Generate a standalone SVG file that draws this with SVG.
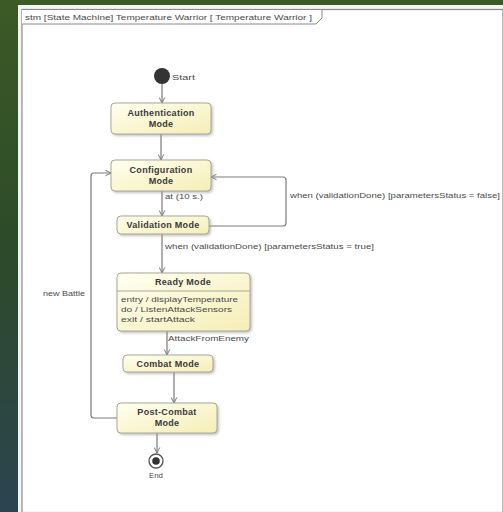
<svg xmlns="http://www.w3.org/2000/svg" width="503" height="512" viewBox="0 0 503 512">
  <defs>
    <linearGradient id="bg" x1="0" y1="0" x2="0" y2="1">
      <stop offset="0" stop-color="#3b5a25"/>
      <stop offset="0.5" stop-color="#2d4a2a"/>
      <stop offset="1" stop-color="#2c4450"/>
    </linearGradient>
    <linearGradient id="stateFill" x1="0" y1="0" x2="1" y2="1">
      <stop offset="0" stop-color="#fffff0"/>
      <stop offset="1" stop-color="#f5eeb6"/>
    </linearGradient>
    <marker id="arrow" viewBox="0 0 10 10" refX="9" refY="5" markerWidth="7" markerHeight="7" orient="auto-start-reverse" markerUnits="userSpaceOnUse">
      <path d="M1,1 L9,5 L1,9" fill="none" stroke="#777" stroke-width="1.4"/>
    </marker>
    <filter id="shadow" x="-10%" y="-10%" width="130%" height="140%">
      <feDropShadow dx="1.5" dy="1.5" stdDeviation="0.8" flood-color="#999" flood-opacity="0.6"/>
    </filter>
  </defs>
  <style>
    .state { fill: url(#stateFill); stroke: #aaa79a; stroke-width: 1; filter: url(#shadow); }
    .name { font-family: "Liberation Sans", Arial, sans-serif; font-size: 9px; font-weight: bold; fill: #3a3a3a; text-anchor: middle; letter-spacing: 0.3px; }
    .txt { font-family: "Liberation Sans", Arial, sans-serif; font-size: 7.8px; fill: #4a4a4a; }
    .edge { fill: none; stroke: #7a7a7a; stroke-width: 1.2; marker-end: url(#arrow); }
  </style>

  <!-- backdrop and diagram frame -->
  <rect x="0" y="0" width="503" height="512" fill="url(#bg)"/>
  <rect x="18" y="5" width="485" height="507" fill="#f4f4f4"/>
  <rect x="22" y="9.5" width="481" height="503" fill="#ffffff" stroke="#8a8a8a" stroke-width="1.2"/>
  <path d="M22,9.5 L322,9.5 L322,18 L316,24 L22,24" fill="#ffffff" stroke="#8a8a8a" stroke-width="1"/>
  <text class="txt" x="25" y="20" textLength="287" lengthAdjust="spacingAndGlyphs">stm [State Machine] Temperature Warrior [ Temperature Warrior ]</text>

  <!-- transitions -->
  <g id="connectors">
    <line class="edge" x1="162" y1="84" x2="162" y2="103"/>
    <line class="edge" x1="161" y1="134" x2="161" y2="160"/>
    <line class="edge" x1="162" y1="191" x2="162" y2="216"/>
    <line class="edge" x1="162" y1="234" x2="162" y2="273"/>
    <line class="edge" x1="167" y1="331" x2="167" y2="355"/>
    <line class="edge" x1="174" y1="372" x2="174" y2="403"/>
    <line class="edge" x1="157" y1="433" x2="157" y2="453"/>
    <path class="edge" d="M209,226 L283,226 Q286,226 286,223 L286,180 Q286,177 283,177 L211,177"/>
    <path class="edge" d="M117,418 L94,418 Q91,418 91,415 L91,176 Q91,173 94,173 L111,173"/>
    <text class="txt" x="165" y="199" textLength="38" lengthAdjust="spacingAndGlyphs">at (10 s.)</text>
    <text class="txt" x="290" y="198" textLength="210" lengthAdjust="spacingAndGlyphs">when (validationDone) [parametersStatus = false]</text>
    <text class="txt" x="165" y="249" textLength="209" lengthAdjust="spacingAndGlyphs">when (validationDone) [parametersStatus = true]</text>
    <text class="txt" x="168" y="341" textLength="81" lengthAdjust="spacingAndGlyphs">AttackFromEnemy</text>
    <text class="txt" x="43" y="296" textLength="42" lengthAdjust="spacingAndGlyphs">new Battle</text>
  </g>

  <g id="start">
    <circle cx="162" cy="76" r="8" fill="#333"/>
    <text class="txt" x="172" y="80" textLength="23" lengthAdjust="spacingAndGlyphs">Start</text>
  </g>

  <g id="authentication">
    <rect class="state" x="111" y="103" width="100" height="31" rx="4"/>
    <text class="name" x="161" y="116">Authentication</text>
    <text class="name" x="161" y="127">Mode</text>
  </g>

  <g id="configuration">
    <rect class="state" x="111" y="160" width="100" height="31" rx="4"/>
    <text class="name" x="161" y="173">Configuration</text>
    <text class="name" x="161" y="184">Mode</text>
  </g>

  <g id="validation">
    <rect class="state" x="117" y="216" width="92" height="18" rx="4"/>
    <text class="name" x="163" y="228">Validation Mode</text>
  </g>

  <g id="ready">
    <rect class="state" x="117" y="273" width="133" height="58" rx="4"/>
    <line x1="117" y1="291" x2="250" y2="291" stroke="#aaa79a" stroke-width="1"/>
    <text class="name" x="183" y="285">Ready Mode</text>
    <text class="txt" x="121" y="302" textLength="117" lengthAdjust="spacingAndGlyphs">entry / displayTemperature</text>
    <text class="txt" x="121" y="312" textLength="111" lengthAdjust="spacingAndGlyphs">do / ListenAttackSensors</text>
    <text class="txt" x="121" y="322" textLength="74" lengthAdjust="spacingAndGlyphs">exit / startAttack</text>
  </g>

  <g id="combat">
    <rect class="state" x="123" y="355" width="90" height="17" rx="4"/>
    <text class="name" x="168" y="367">Combat Mode</text>
  </g>

  <g id="postcombat">
    <rect class="state" x="117" y="403" width="100" height="30" rx="4"/>
    <text class="name" x="167" y="415">Post-Combat</text>
    <text class="name" x="167" y="426">Mode</text>
  </g>

  <g id="end">
    <circle cx="156" cy="461" r="7" fill="#ffffff" stroke="#555" stroke-width="1.3"/>
    <circle cx="156" cy="461" r="3.8" fill="#333"/>
    <text class="txt" x="156" y="478" text-anchor="middle">End</text>
  </g>
</svg>
